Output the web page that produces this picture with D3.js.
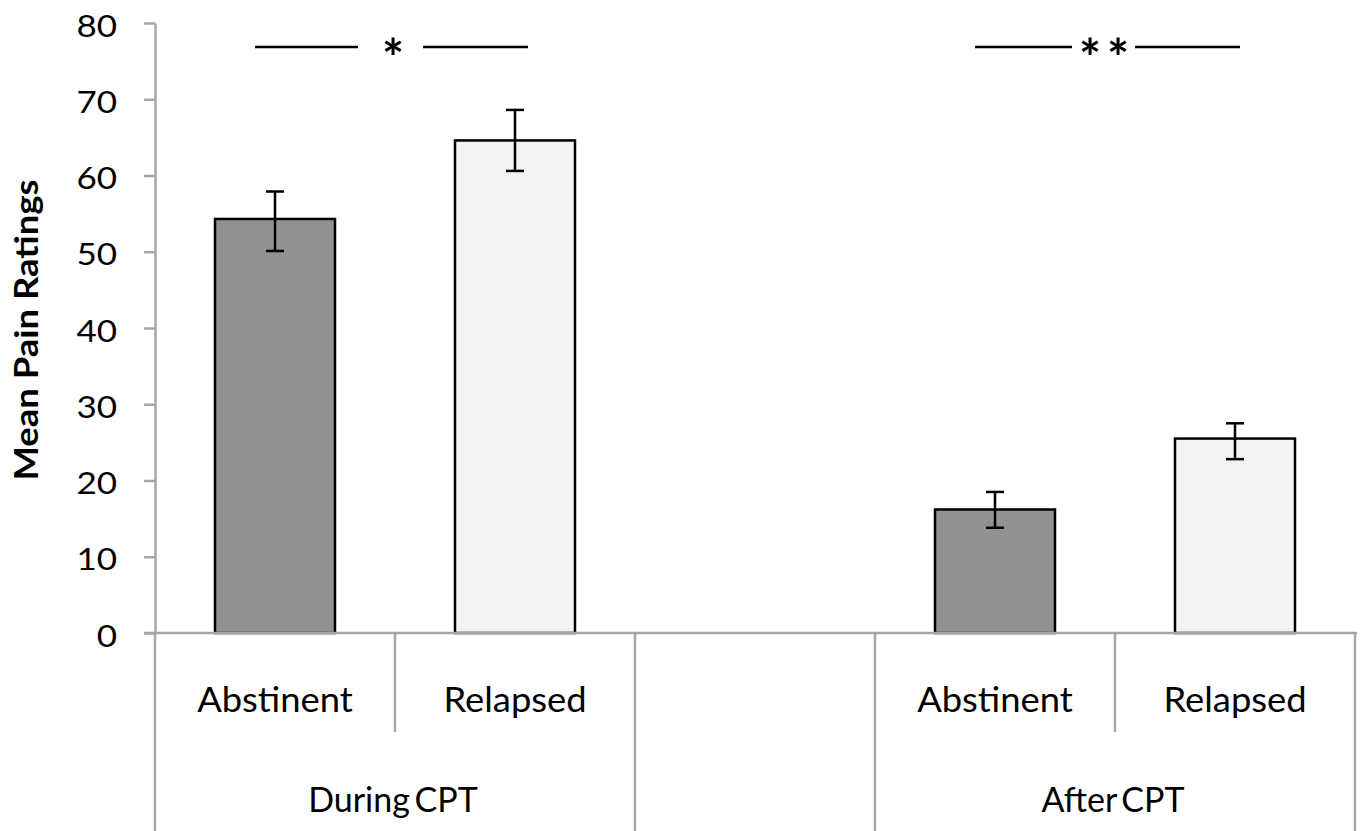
<!DOCTYPE html>
<html><head><meta charset="utf-8">
<script src="https://cdn.jsdelivr.net/npm/d3@7"></script>
<style>body{margin:0;background:#fff}svg{display:block}text{font-family:Lato,"Open Sans",sans-serif;fill:#000}</style>
</head><body>
<svg id="chart" width="1361" height="831"></svg>
<script>
// ---- data ----
const slotLabels = ["Abstinent", "Relapsed", "", "Abstinent", "Relapsed"];
const slotGroups = ["During CPT", "During CPT", "", "After CPT", "After CPT"];
const groupNames = ["During CPT", "", "After CPT"];
const means   = [54.3, 64.6, null, 16.2, 25.5];
const errLow  = [50.1, 60.6, null, 13.8, 22.8];
const errHigh = [57.9, 68.6, null, 18.5, 27.5];
const yTicks = [0, 10, 20, 30, 40, 50, 60, 70, 80];
const significance = [
  {from: 0, to: 1, label: "*"},
  {from: 3, to: 4, label: "**"}
];
const yTitle = "Mean Pain Ratings";

(function () {
// ---- layout ----
const svg = d3.select("#chart");
const mLeft = 155, mRight = 1355, mTop = 23, mBottom = 633;
const axisColor = "#a6a6a6";
const fills = {Abstinent: "#929292", Relapsed: "#f2f2f2"};

const x = d3.scaleBand().domain(d3.range(slotLabels.length)).range([mLeft, mRight]).padding(0);
const y = d3.scaleLinear().domain([0, 80]).range([mBottom, mTop]);
const bw = x.bandwidth() * 0.5;

// y axis
const yAxis = svg.append("g").attr("transform", `translate(${mLeft},0)`)
  .call(d3.axisLeft(y).tickValues(yTicks).tickSize(11).tickSizeOuter(0).tickPadding(0));
yAxis.select(".domain").attr("stroke", axisColor).attr("stroke-width", 2.5);
yAxis.selectAll(".tick line").attr("stroke", axisColor).attr("stroke-width", 2.5);
yAxis.selectAll(".tick text")
  .attr("x", null).attr("dy", null)
  .attr("font-size", 31).attr("text-anchor", "end")
  .attr("transform", "translate(-38,13) scale(1.13,1)")
  .style("font-family", "Lato").attr("fill", "#000");

// bars
const idx = d3.range(slotLabels.length).filter(i => means[i] != null);
svg.append("g").selectAll("rect").data(idx).join("rect")
  .attr("x", i => x(i) + (x.bandwidth() - bw) / 2)
  .attr("width", bw)
  .attr("y", i => y(means[i]))
  .attr("height", i => y(0) - y(means[i]))
  .attr("fill", i => fills[slotLabels[i]])
  .attr("stroke", "#000").attr("stroke-width", 2.5);

// error bars
const eb = svg.append("g").attr("stroke", "#000").attr("stroke-width", 2.5);
idx.forEach(i => {
  const cx = x(i) + x.bandwidth() / 2;
  eb.append("line").attr("x1", cx).attr("x2", cx).attr("y1", y(errLow[i])).attr("y2", y(errHigh[i]));
  eb.append("line").attr("x1", cx - 9).attr("x2", cx + 9).attr("y1", y(errLow[i])).attr("y2", y(errLow[i]));
  eb.append("line").attr("x1", cx - 9).attr("x2", cx + 9).attr("y1", y(errHigh[i])).attr("y2", y(errHigh[i]));
});

// category axis (multi-level)
const cat = svg.append("g").attr("stroke", axisColor).attr("stroke-width", 2.5);
cat.append("line").attr("x1", mLeft - 11).attr("x2", mRight + 2).attr("y1", y(0)).attr("y2", y(0));
for (let b = 0; b <= slotLabels.length; b++) {
  const bx = b < slotLabels.length ? x(b) : mRight;
  const internal = b > 0 && b < slotLabels.length && slotGroups[b - 1] === slotGroups[b] && slotGroups[b] !== "";
  cat.append("line").attr("x1", bx).attr("x2", bx).attr("y1", y(0)).attr("y2", internal ? 732 : 831);
}
svg.append("g").selectAll("text").data(idx).join("text")
  .attr("transform", i => `translate(${x(i) + x.bandwidth() / 2},712) scale(1.07,1)`)
  .attr("text-anchor", "middle").attr("font-size", 34)
  .text(i => slotLabels[i]);
groupNames.forEach(g => {
  if (!g) return;
  const members = d3.range(slotLabels.length).filter(i => slotGroups[i] === g);
  const gx = (x(members[0]) + x(members[members.length - 1]) + x.bandwidth()) / 2;
  svg.append("text").attr("x", gx - 2).attr("y", 812).attr("text-anchor", "middle")
    .attr("font-size", 34).attr("word-spacing", -4).text(g);
});

// y axis title
svg.append("text")
  .attr("transform", `translate(38,${(mTop + mBottom) / 2 + 2}) rotate(-90) scale(1.14,1)`)
  .attr("text-anchor", "middle").attr("font-size", 32).attr("font-weight", "bold")
  .text(yTitle);

// significance markers
const sig = svg.append("g");
significance.forEach(s => {
  const c = (x(s.from) + x(s.to) + x.bandwidth()) / 2;
  const one = s.label.length === 1;
  sig.append("line").attr("x1", c - 140).attr("x2", one ? c - 37 : c - 43).attr("y1", 47).attr("y2", 47)
    .attr("stroke", "#000").attr("stroke-width", 2.5);
  sig.append("line").attr("x1", one ? c + 28 : c + 20).attr("x2", c + (one ? 133 : 125)).attr("y1", 47).attr("y2", 47)
    .attr("stroke", "#000").attr("stroke-width", 2.5);
  sig.append("text").attr("x", c - (one ? 2 : 8)).attr("y", 77)
    .attr("text-anchor", "middle").attr("font-size", 52).attr("font-weight", "bold")
    .attr("letter-spacing", one ? 0 : 6)
    .text(s.label);
});
})();
</script>
</body></html>
